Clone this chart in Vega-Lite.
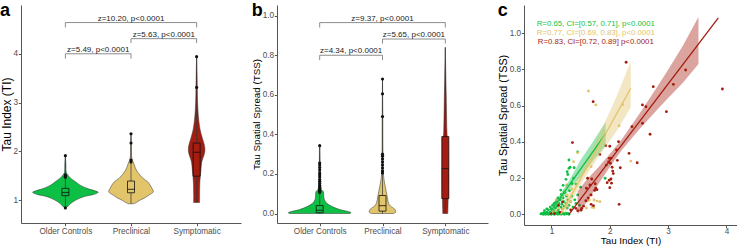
{
"$schema": "https://vega.github.io/schema/vega-lite/v6.json",
"padding": {"left": 0, "top": 1, "right": 0, "bottom": 0},
"background": "white",
"bounds": "flush",
"spacing": 36,
"config": {
  "font": "Liberation Sans",
  "view": {"stroke": null},
  "axis": {"grid": false, "domainColor": "#555555", "tickColor": "#555555", "labelColor": "#4d4d4d", "labelFontSize": 8.2, "titleFontSize": 10, "titleFontWeight": "normal", "titleColor": "#000000", "tickSize": 2.7, "labelPadding": 0.7, "titlePadding": 0.5},
  "title": {"fontSize": 18, "fontWeight": "bold", "anchor": "start", "frame": "bounds", "offset": -14.5, "baseline": "alphabetic", "color": "#000000"}
},
"datasets": {
  "vioA": [
    {"grp":"Older Controls","y":0.84,"lo":1,"hi":1},
    {"grp":"Older Controls","y":0.86,"lo":0.97,"hi":1.03},
    {"grp":"Older Controls","y":0.93,"lo":0.92,"hi":1.08},
    {"grp":"Older Controls","y":1.0,"lo":0.84,"hi":1.16},
    {"grp":"Older Controls","y":1.07,"lo":0.72,"hi":1.28},
    {"grp":"Older Controls","y":1.12,"lo":0.56,"hi":1.44},
    {"grp":"Older Controls","y":1.16,"lo":0.5,"hi":1.5},
    {"grp":"Older Controls","y":1.19,"lo":0.55,"hi":1.45},
    {"grp":"Older Controls","y":1.24,"lo":0.67,"hi":1.33},
    {"grp":"Older Controls","y":1.31,"lo":0.78,"hi":1.22},
    {"grp":"Older Controls","y":1.38,"lo":0.85,"hi":1.15},
    {"grp":"Older Controls","y":1.45,"lo":0.92,"hi":1.08},
    {"grp":"Older Controls","y":1.51,"lo":0.96,"hi":1.04},
    {"grp":"Older Controls","y":1.56,"lo":0.985,"hi":1.015},
    {"grp":"Older Controls","y":1.75,"lo":0.992,"hi":1.008},
    {"grp":"Older Controls","y":1.91,"lo":1,"hi":1},
    {"grp":"Preclinical","y":0.925,"lo":1.96,"hi":2.04},
    {"grp":"Preclinical","y":0.95,"lo":1.92,"hi":2.08},
    {"grp":"Preclinical","y":1.0,"lo":1.86,"hi":2.14},
    {"grp":"Preclinical","y":1.04,"lo":1.8,"hi":2.2},
    {"grp":"Preclinical","y":1.1,"lo":1.73,"hi":2.27},
    {"grp":"Preclinical","y":1.17,"lo":1.66,"hi":2.34},
    {"grp":"Preclinical","y":1.24,"lo":1.68,"hi":2.32},
    {"grp":"Preclinical","y":1.31,"lo":1.71,"hi":2.29},
    {"grp":"Preclinical","y":1.38,"lo":1.75,"hi":2.25},
    {"grp":"Preclinical","y":1.45,"lo":1.82,"hi":2.18},
    {"grp":"Preclinical","y":1.54,"lo":1.88,"hi":2.12},
    {"grp":"Preclinical","y":1.62,"lo":1.92,"hi":2.08},
    {"grp":"Preclinical","y":1.72,"lo":1.95,"hi":2.05},
    {"grp":"Preclinical","y":1.79,"lo":1.97,"hi":2.03},
    {"grp":"Preclinical","y":1.86,"lo":1.988,"hi":2.012},
    {"grp":"Preclinical","y":2.1,"lo":1.994,"hi":2.006},
    {"grp":"Preclinical","y":2.36,"lo":2,"hi":2},
    {"grp":"Symptomatic","y":0.95,"lo":2.955,"hi":3.045},
    {"grp":"Symptomatic","y":1.1,"lo":2.955,"hi":3.045},
    {"grp":"Symptomatic","y":1.38,"lo":2.95,"hi":3.05},
    {"grp":"Symptomatic","y":1.58,"lo":2.937,"hi":3.063},
    {"grp":"Symptomatic","y":1.79,"lo":2.92,"hi":3.08},
    {"grp":"Symptomatic","y":1.96,"lo":2.88,"hi":3.12},
    {"grp":"Symptomatic","y":2.06,"lo":2.874,"hi":3.126},
    {"grp":"Symptomatic","y":2.17,"lo":2.89,"hi":3.11},
    {"grp":"Symptomatic","y":2.27,"lo":2.913,"hi":3.087},
    {"grp":"Symptomatic","y":2.47,"lo":2.95,"hi":3.05},
    {"grp":"Symptomatic","y":2.75,"lo":2.975,"hi":3.025},
    {"grp":"Symptomatic","y":3.0,"lo":2.985,"hi":3.015},
    {"grp":"Symptomatic","y":3.3,"lo":2.99,"hi":3.01},
    {"grp":"Symptomatic","y":3.6,"lo":2.994,"hi":3.006},
    {"grp":"Symptomatic","y":3.94,"lo":3,"hi":3}
  ],
  "boxA": [
    {"grp":"Older Controls","pos":1,"min":0.84,"q1":1.09,"med":1.155,"q3":1.24,"max":1.91},
    {"grp":"Preclinical","pos":2,"min":0.925,"q1":1.15,"med":1.22,"q3":1.39,"max":2.36},
    {"grp":"Symptomatic","pos":3,"min":0.95,"q1":1.49,"med":1.98,"q3":2.17,"max":3.94}
  ],
  "ptsA": [
    {"pos":1,"v":1.91},{"pos":1,"v":1.52},{"pos":1,"v":1.49},{"pos":1,"v":1.47},{"pos":1,"v":0.84},
    {"pos":2,"v":2.36},{"pos":2,"v":2.17},{"pos":2,"v":1.82},{"pos":2,"v":1.78},
    {"pos":3,"v":3.94},{"pos":3,"v":3.31}
  ],
  "brkA": [
    {"id":"b1","ord":1,"x":1,"y":3.9},{"id":"b1","ord":2,"x":1,"y":4.0},{"id":"b1","ord":3,"x":2,"y":4.0},{"id":"b1","ord":4,"x":2,"y":3.9},
    {"id":"b2","ord":1,"x":2,"y":4.22},{"id":"b2","ord":2,"x":2,"y":4.31},{"id":"b2","ord":3,"x":3,"y":4.31},{"id":"b2","ord":4,"x":3,"y":4.22},
    {"id":"b3","ord":1,"x":1,"y":4.54},{"id":"b3","ord":2,"x":1,"y":4.64},{"id":"b3","ord":3,"x":3,"y":4.64},{"id":"b3","ord":4,"x":3,"y":4.54}
  ],
  "lblA": [
    {"x":1.5,"y":4.0,"label":"z=5.49, p<0.0001"},
    {"x":2.5,"y":4.31,"label":"z=5.63, p<0.0001"},
    {"x":2.0,"y":4.64,"label":"z=10.20, p<0.0001"}
  ],
  "vioB": [
    {"grp":"Older Controls","y":0.0,"lo":0.52,"hi":1.48},
    {"grp":"Older Controls","y":0.004,"lo":0.5,"hi":1.5},
    {"grp":"Older Controls","y":0.01,"lo":0.55,"hi":1.45},
    {"grp":"Older Controls","y":0.02,"lo":0.68,"hi":1.32},
    {"grp":"Older Controls","y":0.035,"lo":0.8,"hi":1.2},
    {"grp":"Older Controls","y":0.05,"lo":0.88,"hi":1.12},
    {"grp":"Older Controls","y":0.07,"lo":0.925,"hi":1.075},
    {"grp":"Older Controls","y":0.09,"lo":0.935,"hi":1.065},
    {"grp":"Older Controls","y":0.11,"lo":0.94,"hi":1.06},
    {"grp":"Older Controls","y":0.12,"lo":0.97,"hi":1.03},
    {"grp":"Older Controls","y":0.15,"lo":0.988,"hi":1.012},
    {"grp":"Older Controls","y":0.25,"lo":0.992,"hi":1.008},
    {"grp":"Older Controls","y":0.343,"lo":1,"hi":1},
    {"grp":"Preclinical","y":0.0,"lo":1.83,"hi":2.17},
    {"grp":"Preclinical","y":0.006,"lo":1.79,"hi":2.21},
    {"grp":"Preclinical","y":0.02,"lo":1.8,"hi":2.2},
    {"grp":"Preclinical","y":0.032,"lo":1.85,"hi":2.15},
    {"grp":"Preclinical","y":0.044,"lo":1.89,"hi":2.11},
    {"grp":"Preclinical","y":0.06,"lo":1.91,"hi":2.09},
    {"grp":"Preclinical","y":0.085,"lo":1.925,"hi":2.075},
    {"grp":"Preclinical","y":0.111,"lo":1.94,"hi":2.06},
    {"grp":"Preclinical","y":0.16,"lo":1.97,"hi":2.03},
    {"grp":"Preclinical","y":0.2,"lo":1.985,"hi":2.015},
    {"grp":"Preclinical","y":0.3,"lo":1.992,"hi":2.008},
    {"grp":"Preclinical","y":0.5,"lo":1.995,"hi":2.005},
    {"grp":"Preclinical","y":0.68,"lo":2,"hi":2},
    {"grp":"Symptomatic","y":0.0,"lo":2.96,"hi":3.04},
    {"grp":"Symptomatic","y":0.07,"lo":2.955,"hi":3.045},
    {"grp":"Symptomatic","y":0.2,"lo":2.95,"hi":3.05},
    {"grp":"Symptomatic","y":0.39,"lo":2.97,"hi":3.03},
    {"grp":"Symptomatic","y":0.42,"lo":2.975,"hi":3.025},
    {"grp":"Symptomatic","y":0.59,"lo":2.985,"hi":3.015},
    {"grp":"Symptomatic","y":0.7,"lo":2.992,"hi":3.008},
    {"grp":"Symptomatic","y":0.84,"lo":3,"hi":3}
  ],
  "boxB": [
    {"grp":"Older Controls","pos":1,"min":0.0,"q1":0.004,"med":0.016,"q3":0.04,"max":0.343},
    {"grp":"Preclinical","pos":2,"min":0.0,"q1":0.012,"med":0.04,"q3":0.091,"max":0.68},
    {"grp":"Symptomatic","pos":3,"min":0.0,"q1":0.075,"med":0.227,"q3":0.389,"max":0.84}
  ],
  "ptsB": [
    {"pos":1,"v":0.343},{"pos":1,"v":0.255},{"pos":1,"v":0.245},{"pos":1,"v":0.232},{"pos":1,"v":0.22},{"pos":1,"v":0.205},{"pos":1,"v":0.195},{"pos":1,"v":0.185},{"pos":1,"v":0.172},{"pos":1,"v":0.163},{"pos":1,"v":0.152},{"pos":1,"v":0.142},{"pos":1,"v":0.133},{"pos":1,"v":0.125},{"pos":1,"v":0.118},{"pos":1,"v":0.112},{"pos":1,"v":0.106},
    {"pos":2,"v":0.68},{"pos":2,"v":0.605},{"pos":2,"v":0.49},{"pos":2,"v":0.3},{"pos":2,"v":0.29},{"pos":2,"v":0.275},{"pos":2,"v":0.26},{"pos":2,"v":0.245},{"pos":2,"v":0.23},{"pos":2,"v":0.215},{"pos":2,"v":0.205}
  ],
  "brkB": [
    {"id":"b1","ord":1,"x":1,"y":0.775},{"id":"b1","ord":2,"x":1,"y":0.8},{"id":"b1","ord":3,"x":2,"y":0.8},{"id":"b1","ord":4,"x":2,"y":0.775},
    {"id":"b2","ord":1,"x":2,"y":0.859},{"id":"b2","ord":2,"x":2,"y":0.882},{"id":"b2","ord":3,"x":3,"y":0.882},{"id":"b2","ord":4,"x":3,"y":0.859},
    {"id":"b3","ord":1,"x":1,"y":0.94},{"id":"b3","ord":2,"x":1,"y":0.965},{"id":"b3","ord":3,"x":3,"y":0.965},{"id":"b3","ord":4,"x":3,"y":0.94}
  ],
  "lblB": [
    {"x":1.5,"y":0.8,"label":"z=4.34, p<0.0001"},
    {"x":2.5,"y":0.882,"label":"z=5.65, p<0.0001"},
    {"x":2.0,"y":0.965,"label":"z=9.37, p<0.0001"}
  ],
  "scat": [
    {"grp":"Older Controls","x":0.82,"y":0.002},{"grp":"Older Controls","x":0.84,"y":0.005},{"grp":"Older Controls","x":0.86,"y":0.0},{"grp":"Older Controls","x":0.87,"y":0.008},{"grp":"Older Controls","x":0.88,"y":0.003},{"grp":"Older Controls","x":0.9,"y":0.0},{"grp":"Older Controls","x":0.91,"y":0.006},{"grp":"Older Controls","x":0.92,"y":0.012},{"grp":"Older Controls","x":0.93,"y":0.002},{"grp":"Older Controls","x":0.95,"y":0.0},{"grp":"Older Controls","x":0.96,"y":0.005},{"grp":"Older Controls","x":0.97,"y":0.01},{"grp":"Older Controls","x":0.98,"y":0.002},{"grp":"Older Controls","x":1.0,"y":0.0},{"grp":"Older Controls","x":1.01,"y":0.006},{"grp":"Older Controls","x":1.02,"y":0.013},{"grp":"Older Controls","x":1.03,"y":0.003},{"grp":"Older Controls","x":1.05,"y":0.0},{"grp":"Older Controls","x":1.06,"y":0.008},{"grp":"Older Controls","x":1.07,"y":0.002},{"grp":"Older Controls","x":1.08,"y":0.015},{"grp":"Older Controls","x":1.1,"y":0.004},{"grp":"Older Controls","x":1.11,"y":0.0},{"grp":"Older Controls","x":1.12,"y":0.01},{"grp":"Older Controls","x":1.14,"y":0.002},{"grp":"Older Controls","x":1.15,"y":0.006},{"grp":"Older Controls","x":1.17,"y":0.0},{"grp":"Older Controls","x":1.18,"y":0.012},{"grp":"Older Controls","x":1.2,"y":0.004},{"grp":"Older Controls","x":1.22,"y":0.0},{"grp":"Older Controls","x":1.24,"y":0.007},{"grp":"Older Controls","x":1.26,"y":0.002},{"grp":"Older Controls","x":1.28,"y":0.005},{"grp":"Older Controls","x":1.3,"y":0.0},
    {"grp":"Older Controls","x":0.88,"y":0.02},{"grp":"Older Controls","x":0.92,"y":0.03},{"grp":"Older Controls","x":0.95,"y":0.025},{"grp":"Older Controls","x":0.98,"y":0.04},{"grp":"Older Controls","x":1.0,"y":0.03},{"grp":"Older Controls","x":1.02,"y":0.05},{"grp":"Older Controls","x":1.04,"y":0.02},{"grp":"Older Controls","x":1.05,"y":0.06},{"grp":"Older Controls","x":1.07,"y":0.035},{"grp":"Older Controls","x":1.08,"y":0.07},{"grp":"Older Controls","x":1.1,"y":0.045},{"grp":"Older Controls","x":1.11,"y":0.09},{"grp":"Older Controls","x":1.12,"y":0.025},{"grp":"Older Controls","x":1.13,"y":0.06},{"grp":"Older Controls","x":1.15,"y":0.08},{"grp":"Older Controls","x":1.16,"y":0.04},{"grp":"Older Controls","x":1.17,"y":0.11},{"grp":"Older Controls","x":1.18,"y":0.055},{"grp":"Older Controls","x":1.19,"y":0.03},{"grp":"Older Controls","x":1.2,"y":0.09},{"grp":"Older Controls","x":1.21,"y":0.07},{"grp":"Older Controls","x":1.22,"y":0.045},{"grp":"Older Controls","x":1.23,"y":0.12},{"grp":"Older Controls","x":1.25,"y":0.06},{"grp":"Older Controls","x":1.26,"y":0.1},{"grp":"Older Controls","x":1.27,"y":0.035},{"grp":"Older Controls","x":1.28,"y":0.08},{"grp":"Older Controls","x":1.3,"y":0.05},{"grp":"Older Controls","x":1.31,"y":0.13},{"grp":"Older Controls","x":1.33,"y":0.07},{"grp":"Older Controls","x":1.35,"y":0.1},{"grp":"Older Controls","x":1.37,"y":0.04},{"grp":"Older Controls","x":1.4,"y":0.08},{"grp":"Older Controls","x":1.42,"y":0.06},{"grp":"Older Controls","x":1.45,"y":0.107},{"grp":"Older Controls","x":1.48,"y":0.05},
    {"grp":"Older Controls","x":1.16,"y":0.134},{"grp":"Older Controls","x":1.25,"y":0.193},{"grp":"Older Controls","x":1.27,"y":0.235},{"grp":"Older Controls","x":1.3,"y":0.254},{"grp":"Older Controls","x":1.32,"y":0.26},{"grp":"Older Controls","x":1.28,"y":0.22},{"grp":"Older Controls","x":1.3,"y":0.3},{"grp":"Older Controls","x":1.39,"y":0.257},{"grp":"Older Controls","x":1.42,"y":0.167},{"grp":"Older Controls","x":1.35,"y":0.17},{"grp":"Older Controls","x":1.2,"y":0.16},{"grp":"Older Controls","x":1.45,"y":0.344},{"grp":"Older Controls","x":1.92,"y":0.199},{"grp":"Older Controls","x":1.38,"y":0.2},{"grp":"Older Controls","x":1.5,"y":0.15},
    {"grp":"Preclinical","x":1.635,"y":0.681},{"grp":"Preclinical","x":1.76,"y":0.604},{"grp":"Preclinical","x":2.22,"y":0.607},{"grp":"Preclinical","x":2.16,"y":0.489},{"grp":"Preclinical","x":2.36,"y":0.294},{"grp":"Preclinical","x":1.68,"y":0.263},{"grp":"Preclinical","x":1.67,"y":0.107},{"grp":"Preclinical","x":1.73,"y":0.079},{"grp":"Preclinical","x":1.78,"y":0.073},{"grp":"Preclinical","x":1.83,"y":0.07},{"grp":"Preclinical","x":1.62,"y":0.073},{"grp":"Preclinical","x":1.73,"y":0.037},{"grp":"Preclinical","x":1.45,"y":0.34},{"grp":"Preclinical","x":1.38,"y":0.291},{"grp":"Preclinical","x":1.26,"y":0.162},{"grp":"Preclinical","x":1.22,"y":0.125},{"grp":"Preclinical","x":1.19,"y":0.11},{"grp":"Preclinical","x":1.27,"y":0.107},{"grp":"Preclinical","x":1.08,"y":0.079},{"grp":"Preclinical","x":1.33,"y":0.07},{"grp":"Preclinical","x":1.65,"y":0.079},{"grp":"Preclinical","x":1.7,"y":0.039},{"grp":"Preclinical","x":1.13,"y":0.033},{"grp":"Preclinical","x":1.2,"y":0.03},{"grp":"Preclinical","x":1.02,"y":0.014},{"grp":"Preclinical","x":1.07,"y":0.02},{"grp":"Preclinical","x":1.1,"y":0.06},{"grp":"Preclinical","x":1.35,"y":0.14},{"grp":"Preclinical","x":1.17,"y":0.09},{"grp":"Preclinical","x":1.25,"y":0.05},{"grp":"Preclinical","x":1.6,"y":0.035},{"grp":"Preclinical","x":1.5,"y":0.02},
    {"grp":"Symptomatic","x":2.28,"y":0.84},{"grp":"Symptomatic","x":1.715,"y":0.622},{"grp":"Symptomatic","x":2.745,"y":0.705},{"grp":"Symptomatic","x":2.56,"y":0.604},{"grp":"Symptomatic","x":2.62,"y":0.594},{"grp":"Symptomatic","x":2.97,"y":0.567},{"grp":"Symptomatic","x":3.09,"y":0.718},{"grp":"Symptomatic","x":3.3,"y":0.797},{"grp":"Symptomatic","x":3.93,"y":0.692},{"grp":"Symptomatic","x":2.38,"y":0.484},{"grp":"Symptomatic","x":2.56,"y":0.503},{"grp":"Symptomatic","x":2.69,"y":0.442},{"grp":"Symptomatic","x":2.15,"y":0.401},{"grp":"Symptomatic","x":1.93,"y":0.379},{"grp":"Symptomatic","x":2.0,"y":0.376},{"grp":"Symptomatic","x":2.33,"y":0.337},{"grp":"Symptomatic","x":2.47,"y":0.285},{"grp":"Symptomatic","x":2.115,"y":0.355},{"grp":"Symptomatic","x":1.83,"y":0.331},{"grp":"Symptomatic","x":1.99,"y":0.309},{"grp":"Symptomatic","x":2.02,"y":0.31},{"grp":"Symptomatic","x":1.98,"y":0.29},{"grp":"Symptomatic","x":2.01,"y":0.282},{"grp":"Symptomatic","x":2.13,"y":0.298},{"grp":"Symptomatic","x":1.94,"y":0.272},{"grp":"Symptomatic","x":2.04,"y":0.26},{"grp":"Symptomatic","x":2.18,"y":0.257},{"grp":"Symptomatic","x":2.05,"y":0.239},{"grp":"Symptomatic","x":2.06,"y":0.225},{"grp":"Symptomatic","x":2.02,"y":0.195},{"grp":"Symptomatic","x":1.99,"y":0.188},{"grp":"Symptomatic","x":1.955,"y":0.175},{"grp":"Symptomatic","x":2.03,"y":0.172},{"grp":"Symptomatic","x":2.0,"y":0.147},{"grp":"Symptomatic","x":1.75,"y":0.169},{"grp":"Symptomatic","x":1.69,"y":0.195},{"grp":"Symptomatic","x":1.78,"y":0.136},{"grp":"Symptomatic","x":1.74,"y":0.132},{"grp":"Symptomatic","x":2.16,"y":0.055},{"grp":"Symptomatic","x":1.68,"y":0.107},{"grp":"Symptomatic","x":1.68,"y":0.055},{"grp":"Symptomatic","x":1.72,"y":0.048},{"grp":"Symptomatic","x":1.52,"y":0.033},{"grp":"Symptomatic","x":1.6,"y":0.144},{"grp":"Symptomatic","x":1.36,"y":0.396},{"grp":"Symptomatic","x":1.62,"y":0.199},{"grp":"Symptomatic","x":1.59,"y":0.075},{"grp":"Symptomatic","x":1.63,"y":0.09},{"grp":"Symptomatic","x":1.42,"y":0.033},{"grp":"Symptomatic","x":1.51,"y":0.024},{"grp":"Symptomatic","x":1.33,"y":0.024},{"grp":"Symptomatic","x":0.99,"y":0.005},{"grp":"Symptomatic","x":1.05,"y":0.004},{"grp":"Symptomatic","x":1.15,"y":0.01},{"grp":"Symptomatic","x":1.19,"y":0.068},{"grp":"Symptomatic","x":1.12,"y":0.05},{"grp":"Symptomatic","x":1.45,"y":0.02},{"grp":"Symptomatic","x":1.55,"y":0.045},{"grp":"Symptomatic","x":1.76,"y":0.144},{"grp":"Symptomatic","x":1.66,"y":0.162}
  ],
  "band": [
    {"grp":"Older Controls","x":1.02,"lo":0.0,"hi":0.062},
    {"grp":"Older Controls","x":1.1,"lo":0.048,"hi":0.088},
    {"grp":"Older Controls","x":1.3,"lo":0.134,"hi":0.184},
    {"grp":"Older Controls","x":1.5,"lo":0.205,"hi":0.3},
    {"grp":"Older Controls","x":1.7,"lo":0.29,"hi":0.395},
    {"grp":"Older Controls","x":1.93,"lo":0.38,"hi":0.51},
    {"grp":"Preclinical","x":1.23,"lo":0.0,"hi":0.08},
    {"grp":"Preclinical","x":1.3,"lo":0.045,"hi":0.117},
    {"grp":"Preclinical","x":1.5,"lo":0.166,"hi":0.228},
    {"grp":"Preclinical","x":1.8,"lo":0.315,"hi":0.427},
    {"grp":"Preclinical","x":2.1,"lo":0.452,"hi":0.638},
    {"grp":"Preclinical","x":2.36,"lo":0.59,"hi":0.845},
    {"grp":"Symptomatic","x":1.45,"lo":0.0,"hi":0.128},
    {"grp":"Symptomatic","x":1.6,"lo":0.065,"hi":0.19},
    {"grp":"Symptomatic","x":1.8,"lo":0.165,"hi":0.259},
    {"grp":"Symptomatic","x":2.0,"lo":0.261,"hi":0.333},
    {"grp":"Symptomatic","x":2.2,"lo":0.352,"hi":0.412},
    {"grp":"Symptomatic","x":2.5,"lo":0.467,"hi":0.551},
    {"grp":"Symptomatic","x":2.8,"lo":0.574,"hi":0.698},
    {"grp":"Symptomatic","x":3.0,"lo":0.643,"hi":0.799},
    {"grp":"Symptomatic","x":3.25,"lo":0.725,"hi":0.929},
    {"grp":"Symptomatic","x":3.52,"lo":0.83,"hi":1.09}
  ],
  "fit": [
    {"grp":"Older Controls","x":0.95,"y":0.0},{"grp":"Older Controls","x":1.93,"y":0.445},
    {"grp":"Preclinical","x":1.16,"y":0.0},{"grp":"Preclinical","x":2.36,"y":0.696},
    {"grp":"Symptomatic","x":1.3,"y":0.0},{"grp":"Symptomatic","x":3.86,"y":1.085}
  ],
  "stat": [
    {"grp":"Older Controls","x":1.76,"y":1.051,"label":"R=0.65, CI=[0.57, 0.71], p<0.0001"},
    {"grp":"Preclinical","x":1.76,"y":1.0,"label":"R=0.77, CI=[0.69, 0.83], p<0.0001"},
    {"grp":"Symptomatic","x":1.76,"y":0.95,"label":"R=0.83, CI=[0.72, 0.89] p<0.0001"}
  ]
},
"hconcat": [
  {
    "width": 220, "height": 218,
    "title": {"text": "a"},
    "layer": [
      {"data": {"name": "vioA"},
       "mark": {"type": "area", "orient": "horizontal", "stroke": "#333333", "strokeWidth": 0.5, "interpolate": "catmull-rom"},
       "encoding": {
         "y": {"field": "y", "type": "quantitative", "scale": {"domain": [0.53, 5.0], "nice": false, "zero": false}, "axis": {"values": [1,2,3,4], "format": "d", "title": "Tau Index (TI)", "titleFontSize": 12, "titlePadding": 0}},
         "x": {"field": "lo", "type": "quantitative", "scale": {"domain": [0.4, 3.6], "nice": false, "zero": false}, "axis": {"values": [1,2,3], "title": null, "labelPadding": 1.5, "labelExpr": "datum.value == 1 ? 'Older Controls' : datum.value == 2 ? 'Preclinical' : 'Symptomatic'"}},
         "x2": {"field": "hi"},
         "color": {"field": "grp", "type": "nominal", "scale": {"domain": ["Older Controls","Preclinical","Symptomatic"], "range": ["#0dbf45","#e2c46a","#a51c10"]}, "legend": null}
       }},
      {"data": {"name": "boxA"}, "mark": {"type": "rule", "color": "#333333", "strokeWidth": 0.7},
       "encoding": {"x": {"field": "pos", "type": "quantitative"}, "y": {"field": "min", "type": "quantitative"}, "y2": {"field": "max"}}},
      {"data": {"name": "boxA"}, "mark": {"type": "bar", "size": 7, "orient": "vertical", "stroke": "#111111", "strokeWidth": 0.8},
       "encoding": {"x": {"field": "pos", "type": "quantitative"}, "y": {"field": "q1", "type": "quantitative"}, "y2": {"field": "q3"}, "color": {"field": "grp", "type": "nominal"}}},
      {"data": {"name": "boxA"}, "mark": {"type": "tick", "orient": "horizontal", "size": 7, "thickness": 1.2, "color": "#111111"},
       "encoding": {"x": {"field": "pos", "type": "quantitative"}, "y": {"field": "med", "type": "quantitative"}}},
      {"data": {"name": "ptsA"}, "mark": {"type": "circle", "size": 10, "color": "#111111", "opacity": 1},
       "encoding": {"x": {"field": "pos", "type": "quantitative"}, "y": {"field": "v", "type": "quantitative"}}},
      {"data": {"name": "brkA"}, "mark": {"type": "line", "color": "#808080", "strokeWidth": 0.9},
       "encoding": {"x": {"field": "x", "type": "quantitative"}, "y": {"field": "y", "type": "quantitative"}, "detail": {"field": "id"}, "order": {"field": "ord"}}},
      {"data": {"name": "lblA"}, "mark": {"type": "text", "fontSize": 8, "color": "#222222", "baseline": "alphabetic", "dy": -2},
       "encoding": {"x": {"field": "x", "type": "quantitative"}, "y": {"field": "y", "type": "quantitative"}, "text": {"field": "label"}}}
    ]
  },
  {
    "width": 211, "height": 218,
    "title": {"text": "b"},
    "layer": [
      {"data": {"name": "vioB"},
       "mark": {"type": "area", "orient": "horizontal", "stroke": "#333333", "strokeWidth": 0.5, "interpolate": "catmull-rom"},
       "encoding": {
         "y": {"field": "y", "type": "quantitative", "scale": {"domain": [-0.048, 1.054], "nice": false, "zero": false}, "axis": {"values": [0,0.2,0.4,0.6,0.8,1.0], "format": ".1f", "title": "Tau Spatial Spread (TSS)", "titleFontSize": 9.8}},
         "x": {"field": "lo", "type": "quantitative", "scale": {"domain": [0.4, 3.6], "nice": false, "zero": false}, "axis": {"values": [1,2,3], "title": null, "labelPadding": 1.5, "labelExpr": "datum.value == 1 ? 'Older Controls' : datum.value == 2 ? 'Preclinical' : 'Symptomatic'"}},
         "x2": {"field": "hi"},
         "color": {"field": "grp", "type": "nominal", "scale": {"domain": ["Older Controls","Preclinical","Symptomatic"], "range": ["#0dbf45","#e2c46a","#a51c10"]}, "legend": null}
       }},
      {"data": {"name": "boxB"}, "mark": {"type": "rule", "color": "#333333", "strokeWidth": 0.7},
       "encoding": {"x": {"field": "pos", "type": "quantitative"}, "y": {"field": "min", "type": "quantitative"}, "y2": {"field": "max"}}},
      {"data": {"name": "boxB"}, "mark": {"type": "bar", "size": 7, "orient": "vertical", "stroke": "#111111", "strokeWidth": 0.8},
       "encoding": {"x": {"field": "pos", "type": "quantitative"}, "y": {"field": "q1", "type": "quantitative"}, "y2": {"field": "q3"}, "color": {"field": "grp", "type": "nominal"}}},
      {"data": {"name": "boxB"}, "mark": {"type": "tick", "orient": "horizontal", "size": 7, "thickness": 1.2, "color": "#111111"},
       "encoding": {"x": {"field": "pos", "type": "quantitative"}, "y": {"field": "med", "type": "quantitative"}}},
      {"data": {"name": "ptsB"}, "mark": {"type": "circle", "size": 10, "color": "#111111", "opacity": 1},
       "encoding": {"x": {"field": "pos", "type": "quantitative"}, "y": {"field": "v", "type": "quantitative"}}},
      {"data": {"name": "brkB"}, "mark": {"type": "line", "color": "#808080", "strokeWidth": 0.9},
       "encoding": {"x": {"field": "x", "type": "quantitative"}, "y": {"field": "y", "type": "quantitative"}, "detail": {"field": "id"}, "order": {"field": "ord"}}},
      {"data": {"name": "lblB"}, "mark": {"type": "text", "fontSize": 8, "color": "#222222", "baseline": "alphabetic", "dy": -2},
       "encoding": {"x": {"field": "x", "type": "quantitative"}, "y": {"field": "y", "type": "quantitative"}, "text": {"field": "label"}}}
    ]
  },
  {
    "width": 213, "height": 220,
    "title": {"text": "c"},
    "layer": [
      {"data": {"name": "scat"}, "mark": {"type": "circle", "size": 8, "opacity": 1},
       "encoding": {
         "x": {"field": "x", "type": "quantitative", "scale": {"domain": [0.53, 4.18], "nice": false, "zero": false}, "axis": {"values": [1,2,3,4], "format": "d", "title": "Tau Index (TI)", "titleFontSize": 9.8, "titleFontWeight": "normal", "labelPadding": 0, "titlePadding": 0.5}},
         "y": {"field": "y", "type": "quantitative", "scale": {"domain": [-0.059, 1.156], "nice": false, "zero": false}, "axis": {"values": [0,0.2,0.4,0.6,0.8,1.0], "format": ".1f", "title": "Tau Spatial Spread (TSS)", "titleFontSize": 10.7}},
         "color": {"field": "grp", "type": "nominal", "scale": {"domain": ["Older Controls","Preclinical","Symptomatic"], "range": ["#0dbf45","#e2c46a","#a51c10"]}, "legend": null}
       }},
      {"data": {"name": "band"}, "mark": {"type": "area", "opacity": 0.4, "clip": true},
       "encoding": {"x": {"field": "x", "type": "quantitative"}, "y": {"field": "lo", "type": "quantitative"}, "y2": {"field": "hi"}, "color": {"field": "grp", "type": "nominal"}}},
      {"data": {"name": "fit"}, "mark": {"type": "line", "strokeWidth": 1.3, "clip": true},
       "encoding": {"x": {"field": "x", "type": "quantitative"}, "y": {"field": "y", "type": "quantitative"}, "color": {"field": "grp", "type": "nominal"}}},
      {"data": {"name": "stat"}, "mark": {"type": "text", "fontSize": 7.8, "baseline": "middle"},
       "encoding": {"x": {"field": "x", "type": "quantitative"}, "y": {"field": "y", "type": "quantitative"}, "text": {"field": "label"}, "color": {"field": "grp", "type": "nominal"}}}
    ]
  }
]
}
